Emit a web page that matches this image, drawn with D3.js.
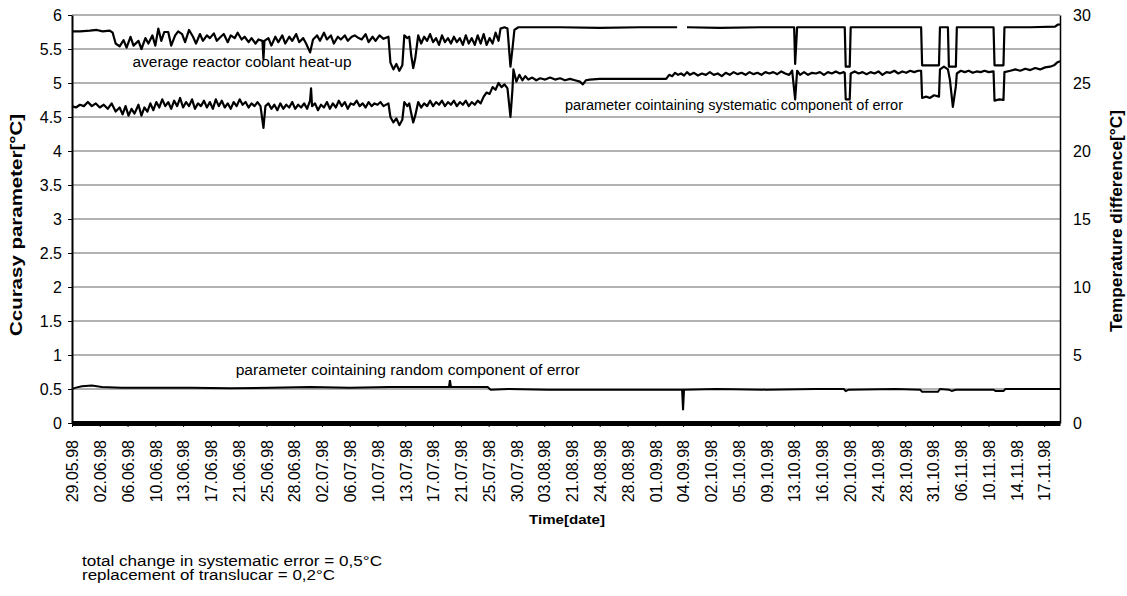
<!DOCTYPE html>
<html lang="en">
<head>
<meta charset="utf-8">
<title>Ccurasy parameter</title>
<script src="https://d3js.org/d3.v7.min.js"></script>
<style>
  body { margin: 0; background: #fff; }
  svg { display: block; font-family: "Liberation Sans", Arial, sans-serif; }
</style>
</head>
<body>
<script type="text/javascript">

// ---- data ----
// x is the reading index (one reading per step, a date label every 28 readings)
var dateLabels = ["29.05.98", "02.06.98", "06.06.98", "10.06.98", "13.06.98", "17.06.98",
  "21.06.98", "25.06.98", "28.06.98", "02.07.98", "06.07.98", "10.07.98", "13.07.98",
  "17.07.98", "21.07.98", "25.07.98", "30.07.98", "03.08.98", "21.08.98", "24.08.98",
  "28.08.98", "01.09.98", "04.09.98", "02.10.98", "05.10.98", "09.10.98", "13.10.98",
  "16.10.98", "20.10.98", "24.10.98", "28.10.98", "31.10.98", "06.11.98", "10.11.98",
  "14.11.98", "17.11.98"];
var labelStep = 28;
var nReadings = 996;

var leftTicks = [0, 0.5, 1, 1.5, 2, 2.5, 3, 3.5, 4, 4.5, 5, 5.5, 6];
var rightTicks = [0, 5, 10, 15, 20, 25, 30];

// average reactor coolant heat-up, right axis [°C]  (null = missing readings)
var heatUp = [
  [0,28.8],[8,28.8],[18,28.85],[25,28.9],[31,28.8],[38,28.85],[41,28.7],[44,27.9],[48,27.7],
  [52,28.15],[55,27.6],[59,28.4],[62,27.75],[67,28.1],[70,27.5],[74,28.3],[77,27.9],[81,28.5],
  [84,27.75],[87,29.0],[90,28.1],[93,28.75],[97,28.75],[100,27.75],[104,28.5],[107,28.8],
  [111,28.6],[114,28.0],[118,28.9],[122,28.4],[125,27.9],[129,28.6],[132,28.1],[136,28.5],
  [139,28.3],[143,28.65],[146,28.1],[150,28.4],[153,28.6],[157,28.0],[160,28.5],[164,28.3],
  [167,28.7],[171,28.2],[174,28.4],[178,28.0],[181,28.3],[185,27.9],[188,28.2],[192,28.1],
  [193,26.75],[194,28.1],[198,28.3],[201,27.75],[205,28.4],[208,28.0],[212,28.5],[215,27.9],
  [219,28.4],[222,28.1],[226,28.6],[229,28.0],[233,28.3],[236,27.9],[240,27.25],[243,28.2],
  [247,28.5],[250,28.1],[254,28.7],[257,28.2],[261,28.5],[264,27.9],[268,28.4],[271,28.2],
  [275,28.5],[278,28.1],[282,28.4],[285,28.5],[289,28.3],[292,28.2],[296,28.6],[299,28.0],
  [303,28.4],[306,28.1],[310,28.5],[314,28.25],[319,28.4],[321,26.5],[324,26.0],[327,26.4],
  [330,25.9],[333,26.3],[335,28.5],[338,28.3],[340,28.4],[342,27.0],[344,26.1],[346,26.8],
  [349,28.5],[352,27.9],[355,28.4],[358,28.1],[361,28.6],[364,28.0],[367,28.3],[370,27.8],
  [373,28.5],[376,28.0],[379,28.3],[382,27.9],[385,28.4],[388,28.0],[391,28.3],[394,27.8],
  [397,28.5],[400,27.9],[403,28.3],[406,27.8],[409,28.5],[412,27.9],[415,28.6],[418,27.8],
  [421,28.3],[424,27.9],[427,28.7],[430,28.1],[432,29.0],[436,29.1],[439,29.0],[442,26.2],
  [444,27.5],[446,28.9],[450,29.1],[492,29.1],[532,29.05],[573,29.1],[610,29.1],[611,null],
  [619,null],[620,29.1],[653,29.05],[694,29.1],[728,29.1],[729,26.4],[731,29.1],[779,29.1],
  [780,26.2],[784,26.2],[785,29.1],[856,29.1],[857,26.3],[874,26.3],[875,29.1],[883,29.1],
  [884,26.2],[891,26.2],[892,29.1],[929,29.1],[930,26.3],[939,26.3],[940,29.1],[966,29.1],
  [991,29.15],[994,29.3],[996,29.3]
];

// parameter containing systematic component of error, left axis [°C]
var systematic = [
  [0,4.66],[4,4.64],[8,4.68],[12,4.66],[16,4.72],[20,4.66],[24,4.70],[28,4.64],[32,4.68],
  [36,4.62],[40,4.70],[44,4.58],[48,4.64],[51,4.54],[54,4.66],[57,4.52],[60,4.62],[63,4.55],
  [67,4.68],[70,4.52],[73,4.64],[76,4.58],[79,4.70],[82,4.60],[85,4.72],[88,4.64],[91,4.76],
  [94,4.66],[97,4.72],[100,4.62],[103,4.74],[106,4.66],[109,4.78],[112,4.64],[115,4.72],
  [118,4.66],[121,4.76],[124,4.62],[127,4.70],[130,4.66],[133,4.74],[136,4.64],[139,4.72],
  [142,4.62],[145,4.76],[148,4.66],[151,4.74],[154,4.64],[157,4.70],[160,4.62],[163,4.72],
  [166,4.66],[169,4.76],[172,4.68],[175,4.72],[178,4.64],[181,4.70],[184,4.66],[187,4.72],
  [190,4.66],[193,4.34],[195,4.66],[198,4.70],[201,4.62],[204,4.68],[207,4.60],[210,4.70],
  [213,4.62],[216,4.68],[219,4.64],[222,4.72],[225,4.62],[228,4.68],[231,4.64],[234,4.70],
  [237,4.62],[240,4.74],[241,4.92],[242,4.66],[245,4.70],[248,4.60],[251,4.68],[254,4.64],
  [257,4.72],[260,4.62],[263,4.70],[266,4.64],[269,4.74],[272,4.66],[275,4.72],[278,4.62],
  [281,4.70],[284,4.68],[287,4.74],[290,4.66],[293,4.70],[296,4.64],[299,4.72],[302,4.66],
  [305,4.70],[308,4.68],[311,4.72],[314,4.66],[319,4.70],[321,4.50],[324,4.42],[327,4.48],
  [330,4.38],[333,4.46],[335,4.72],[338,4.66],[340,4.70],[342,4.55],[344,4.42],[346,4.52],
  [349,4.72],[352,4.64],[355,4.70],[358,4.66],[361,4.74],[364,4.66],[367,4.72],[370,4.68],
  [373,4.74],[376,4.66],[379,4.72],[382,4.68],[385,4.74],[388,4.66],[391,4.72],[394,4.68],
  [397,4.74],[400,4.66],[403,4.72],[406,4.68],[409,4.74],[412,4.70],[415,4.80],[418,4.86],
  [421,4.84],[424,4.94],[427,4.90],[430,5.00],[433,4.94],[436,4.98],[439,4.92],[442,4.50],
  [444,4.90],[445,5.20],[448,5.02],[451,5.12],[454,5.04],[457,5.10],[460,5.05],[464,5.08],
  [468,5.04],[472,5.07],[477,5.05],[482,5.08],[487,5.05],[492,5.07],[497,5.04],[502,5.06],
  [507,5.04],[512,5.02],[515,4.98],[518,5.04],[522,5.05],[532,5.06],[552,5.06],[573,5.06],
  [599,5.06],[602,5.12],[605,5.10],[608,5.15],[611,5.12],[614,5.14],[617,5.11],[620,5.16],
  [623,5.12],[627,5.15],[631,5.11],[635,5.14],[639,5.12],[643,5.16],[647,5.12],[651,5.14],
  [655,5.10],[659,5.15],[663,5.12],[667,5.16],[671,5.13],[675,5.15],[679,5.12],[683,5.16],
  [687,5.13],[691,5.15],[695,5.12],[699,5.16],[703,5.14],[707,5.16],[711,5.13],[715,5.17],
  [719,5.14],[723,5.12],[726,5.18],[729,4.76],[731,5.18],[734,5.12],[738,5.16],[742,5.12],
  [746,5.15],[750,5.14],[754,5.16],[758,5.12],[762,5.16],[766,5.14],[770,5.17],[774,5.14],
  [778,5.16],[779,5.15],[780,4.76],[784,4.76],[785,5.14],[789,5.17],[793,5.14],[797,5.16],
  [801,5.13],[805,5.16],[809,5.14],[813,5.17],[817,5.12],[821,5.16],[825,5.15],[829,5.18],
  [833,5.14],[837,5.17],[841,5.15],[845,5.18],[849,5.16],[853,5.18],[856,5.18],[857,4.78],
  [861,4.80],[865,4.78],[869,4.82],[874,4.80],[875,5.20],[879,5.24],[883,5.20],[885,5.05],
  [888,4.65],[891,4.95],[892,5.14],[896,5.18],[900,5.16],[904,5.18],[908,5.15],[912,5.17],
  [916,5.16],[920,5.18],[924,5.16],[929,5.17],[930,4.74],[935,4.76],[939,4.75],[940,5.16],
  [946,5.18],[951,5.20],[956,5.18],[961,5.21],[966,5.19],[971,5.22],[976,5.20],[981,5.23],
  [986,5.24],[990,5.26],[993,5.30],[996,5.32]
];

// parameter containing random component of error, left axis [°C]
var random = [
  [0,0.50],[4,0.52],[10,0.54],[20,0.55],[30,0.53],[50,0.52],[80,0.52],[120,0.52],[160,0.51],
  [200,0.52],[240,0.53],[280,0.52],[320,0.53],[360,0.53],[380,0.53],[381,0.63],[382,0.53],
  [400,0.53],[419,0.53],[422,0.49],[440,0.50],[480,0.49],[520,0.49],[560,0.49],[600,0.49],
  [615,0.49],[616,0.19],[617,0.49],[650,0.50],[700,0.49],[750,0.50],[778,0.50],[780,0.47],
  [783,0.49],[830,0.50],[855,0.49],[857,0.46],[873,0.46],[875,0.50],[884,0.49],[887,0.47],
  [891,0.49],[929,0.49],[931,0.47],[939,0.47],[941,0.50],[996,0.50]
];

var notes = ["total change in systematic error = 0,5\u00b0C", "replacement of translucar = 0,2\u00b0C"];

// ---- layout ----
var w = 1127;
var h = 596;
var plotLeft = 72, plotRight = 1060, plotTop = 15, plotBottom = 423;

var xScale = d3.scaleLinear().domain([0, nReadings]).range([plotLeft, plotRight]);
var yLeft = d3.scaleLinear().domain([0, 6]).range([plotBottom, plotTop]);
var yRight = d3.scaleLinear().domain([0, 30]).range([plotBottom, plotTop]);

var svg = d3.select("body").append("svg").attr("width", w).attr("height", h);

// gridlines
svg.append("g")
  .selectAll("line")
  .data(leftTicks)
  .enter()
  .append("line")
  .attr("x1", plotLeft).attr("x2", plotRight)
  .attr("y1", function(d) { return yLeft(d); })
  .attr("y2", function(d) { return yLeft(d); })
  .attr("stroke", "#666")
  .attr("stroke-width", 1.2);

// left axis
var gLeft = svg.append("g")
  .attr("transform", "translate(" + plotLeft + ",0)")
  .call(d3.axisLeft(yLeft).tickValues(leftTicks).tickFormat(d3.format("")).tickSize(4).tickSizeOuter(0).tickPadding(6));
gLeft.select(".domain").attr("stroke", "#000").attr("stroke-width", 2);
gLeft.selectAll(".tick line").attr("stroke", "#000");
gLeft.selectAll("text").attr("font-size", 16).attr("fill", "#000").attr("font-family", null);

// right axis
var gRight = svg.append("g")
  .attr("transform", "translate(" + plotRight + ",0)")
  .call(d3.axisRight(yRight).tickValues(rightTicks).tickSize(0).tickSizeOuter(0).tickPadding(13));
gRight.select(".domain").attr("stroke", "#000").attr("stroke-width", 1.5);
gRight.selectAll("text").attr("font-size", 16).attr("fill", "#000").attr("font-family", null);

// bottom axis (thick zero line) with rotated date labels
var gBottom = svg.append("g")
  .attr("transform", "translate(0," + plotBottom + ")")
  .call(d3.axisBottom(xScale)
    .tickValues(dateLabels.map(function(d, i) { return i * labelStep; }))
    .tickFormat(function(d, i) { return dateLabels[i]; })
    .tickSize(4).tickSizeOuter(0));
gBottom.select(".domain").attr("stroke", "#000").attr("stroke-width", 5);
gBottom.selectAll(".tick line").attr("stroke", "#000");
gBottom.selectAll("text")
  .attr("font-size", 16).attr("fill", "#000").attr("font-family", null)
  .attr("text-anchor", "end")
  .attr("transform", "rotate(-90)")
  .attr("x", -17).attr("y", 0).attr("dy", "0.36em");

// series
function lineFor(yScale) {
  return d3.line()
    .defined(function(d) { return d[1] !== null; })
    .x(function(d) { return xScale(d[0]); })
    .y(function(d) { return yScale(d[1]); });
}

svg.append("path").datum(random)
  .attr("d", lineFor(yLeft))
  .attr("fill", "none").attr("stroke", "#000").attr("stroke-width", 2);

svg.append("path").datum(systematic)
  .attr("d", lineFor(yLeft))
  .attr("fill", "none").attr("stroke", "#000").attr("stroke-width", 2.2)
  .attr("stroke-linejoin", "round");

svg.append("path").datum(heatUp)
  .attr("d", lineFor(yRight))
  .attr("fill", "none").attr("stroke", "#000").attr("stroke-width", 2.2)
  .attr("stroke-linejoin", "round");

// series captions
function caption(text, xi, yv, len) {
  svg.append("text")
    .attr("x", xScale(xi)).attr("y", yLeft(yv))
    .attr("font-size", 14)
    .attr("textLength", len).attr("lengthAdjust", "spacingAndGlyphs")
    .text(text);
}
caption("average reactor coolant heat-up", 61, 5.235, 219);
caption("parameter cointaining systematic component of error", 497, 4.60, 338);
caption("parameter cointaining random component of error", 165, 0.705, 344);

// axis titles
svg.append("text")
  .attr("transform", "translate(22,225) rotate(-90)")
  .attr("text-anchor", "middle")
  .attr("font-size", 16).attr("font-weight", "bold")
  .attr("textLength", 222).attr("lengthAdjust", "spacingAndGlyphs")
  .text("Ccurasy parameter[\u00b0C]");

svg.append("text")
  .attr("transform", "translate(1122,221) rotate(-90)")
  .attr("text-anchor", "middle")
  .attr("font-size", 16).attr("font-weight", "bold")
  .attr("textLength", 222).attr("lengthAdjust", "spacingAndGlyphs")
  .text("Temperature difference[\u00b0C]");

svg.append("text")
  .attr("x", 567).attr("y", 524)
  .attr("text-anchor", "middle")
  .attr("font-size", 13).attr("font-weight", "bold")
  .attr("textLength", 76).attr("lengthAdjust", "spacingAndGlyphs")
  .text("Time[date]");

// notes under the chart
svg.append("g")
  .selectAll("text")
  .data(notes)
  .enter()
  .append("text")
  .attr("x", 82)
  .attr("y", function(d, i) { return 566 + i * 14; })
  .attr("font-size", 14)
  .attr("textLength", function(d, i) { return i === 0 ? 300 : 253; })
  .attr("lengthAdjust", "spacingAndGlyphs")
  .text(function(d) { return d; });

</script>
</body>
</html>
